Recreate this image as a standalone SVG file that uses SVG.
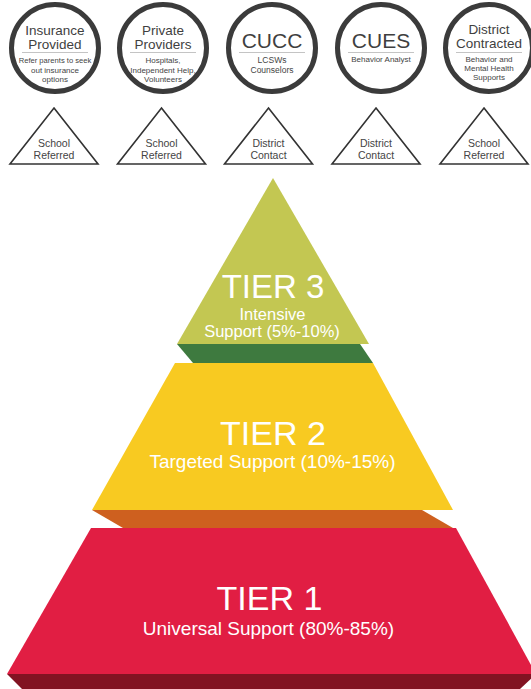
<svg xmlns="http://www.w3.org/2000/svg" width="531" height="689" viewBox="0 0 531 689">
<style>
.ring{fill:#fff;stroke:#3b3b3b;stroke-width:5}
.sep{stroke:#c4c4c4;stroke-width:1}
.ttl{font-family:"Liberation Sans",Arial,sans-serif;font-size:13.5px;fill:#3f3f3f;text-anchor:middle}
.big{font-family:"Liberation Sans",Arial,sans-serif;font-size:21px;fill:#3f3f3f;text-anchor:middle}
.sm{font-family:"Liberation Sans",Arial,sans-serif;font-size:8px;fill:#444;text-anchor:middle}
.tri{fill:#fff;stroke:#333;stroke-width:1.6;stroke-linejoin:miter}
.tl{font-family:"Liberation Sans",Arial,sans-serif;font-size:10.5px;fill:#444;text-anchor:middle}
.tier{font-family:"Liberation Sans",Arial,sans-serif;font-size:34px;fill:#fff;text-anchor:middle}
.sub{font-family:"Liberation Sans",Arial,sans-serif;font-size:19px;fill:#fff;text-anchor:middle}
.sub3{font-family:"Liberation Sans",Arial,sans-serif;font-size:16.5px;fill:#fff;text-anchor:middle}
</style>
<rect width="531" height="689" fill="#fff"/>

<g id="circle-insurance">
<circle class="ring" cx="55" cy="48" r="43.5"/>
<line class="sep" x1="22" y1="52.5" x2="88" y2="52.5"/>
<text class="ttl" x="55" y="35">Insurance</text>
<text class="ttl" x="55" y="49">Provided</text>
<text class="sm" x="55" y="63" style="font-size:7.6px">Refer parents to seek</text>
<text class="sm" x="55" y="72.5">out insurance</text>
<text class="sm" x="55" y="82">options</text>
</g>
<g id="circle-private">
<circle class="ring" cx="163" cy="48" r="43.5"/>
<line class="sep" x1="130" y1="52.5" x2="196" y2="52.5"/>
<text class="ttl" x="163" y="35">Private</text>
<text class="ttl" x="163" y="49">Providers</text>
<text class="sm" x="163" y="63">Hospitals,</text>
<text class="sm" x="163" y="72.5">Independent Help,</text>
<text class="sm" x="163" y="82">Volunteers</text>
</g>
<g id="circle-cucc">
<circle class="ring" cx="272" cy="48" r="43.5"/>
<line class="sep" x1="239" y1="52.5" x2="305" y2="52.5"/>
<text class="big" x="272" y="48">CUCC</text>
<text class="sm" x="272" y="63" style="font-size:8.5px">LCSWs</text>
<text class="sm" x="272" y="73" style="font-size:8.5px">Counselors</text>
</g>
<g id="circle-cues">
<circle class="ring" cx="381" cy="48" r="43.5"/>
<line class="sep" x1="348" y1="52.5" x2="414" y2="52.5"/>
<text class="big" x="381" y="48">CUES</text>
<text class="sm" x="381" y="62">Behavior Analyst</text>
</g>
<g id="circle-district">
<circle class="ring" cx="489" cy="48" r="43.5"/>
<line class="sep" x1="456" y1="52.5" x2="522" y2="52.5"/>
<text class="ttl" x="489" y="34">District</text>
<text class="ttl" x="489" y="48">Contracted</text>
<text class="sm" x="489" y="62">Behavior and</text>
<text class="sm" x="489" y="71">Mental Health</text>
<text class="sm" x="489" y="80">Supports</text>
</g>

<g id="tri-1">
<polygon class="tri" points="54,108 98,164 10,164"/>
<text class="tl" x="54" y="147">School</text>
<text class="tl" x="54" y="159">Referred</text>
</g>
<g id="tri-2">
<polygon class="tri" points="161.5,108 205.5,164 117.5,164"/>
<text class="tl" x="161.5" y="147">School</text>
<text class="tl" x="161.5" y="159">Referred</text>
</g>
<g id="tri-3">
<polygon class="tri" points="268.5,108 312.5,164 224.5,164"/>
<text class="tl" x="268.5" y="147">District</text>
<text class="tl" x="268.5" y="159">Contact</text>
</g>
<g id="tri-4">
<polygon class="tri" points="376,108 420,164 332,164"/>
<text class="tl" x="376" y="147">District</text>
<text class="tl" x="376" y="159">Contact</text>
</g>
<g id="tri-5">
<polygon class="tri" points="484,108 528,164 440,164"/>
<text class="tl" x="484" y="147">School</text>
<text class="tl" x="484" y="159">Referred</text>
</g>

<g id="tier3">
<polygon fill="#3e7a3f" points="177,344 360,344 373,363 193,363"/>
<polygon fill="#c3c752" points="273,178 369,344 177,344"/>
<text class="tier" x="273" y="298" style="font-size:33px">TIER 3</text>
<text class="sub3" x="272.5" y="320">Intensive</text>
<text class="sub3" x="272" y="337">Support (5%-10%)</text>
</g>
<g id="tier2">
<polygon fill="#ce601f" points="92,510 422,510 453,528 123,528"/>
<polygon fill="#f8ca21" points="175,363 373,363 453,510 92,510"/>
<text class="tier" x="273" y="445">TIER 2</text>
<text class="sub" x="272.5" y="468">Targeted Support (10%-15%)</text>
</g>
<g id="tier1">
<polygon fill="#821322" points="7,674 536,674 520,689 22,689"/>
<polygon fill="#e11e43" points="91,528 456,528 536,674 7,674"/>
<text class="tier" x="269.5" y="610">TIER 1</text>
<text class="sub" x="268.5" y="635">Universal Support (80%-85%)</text>
</g>
</svg>
